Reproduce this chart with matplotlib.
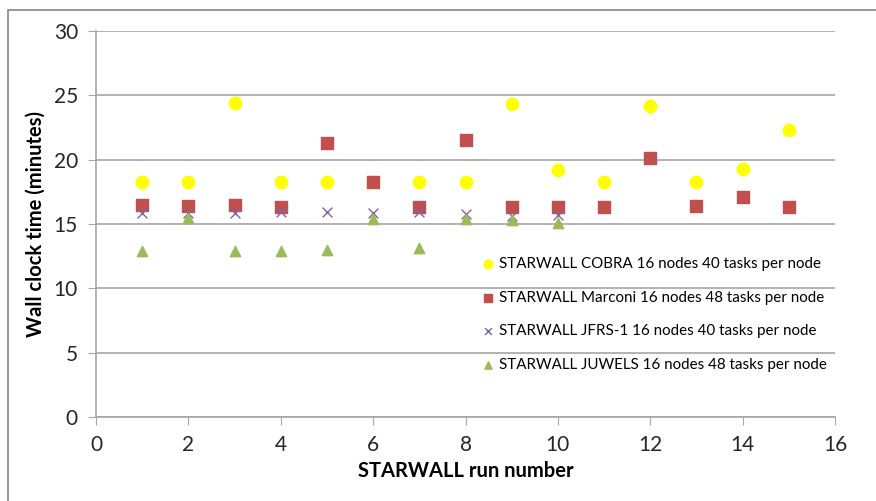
import matplotlib.pyplot as plt
from matplotlib.patches import Rectangle

runs = list(range(1, 16))
cobra = [18.3, 18.3, 24.4, 18.3, 18.3, 18.3, 18.3, 18.3, 24.3, 19.2, 18.3, 24.2, 18.3, 19.3, 22.3]
marconi = [16.5, 16.4, 16.5, 16.3, 21.3, 18.3, 16.3, 21.5, 16.3, 16.3, 16.3, 20.1, 16.4, 17.1, 16.3]
jfrs_runs = list(range(1, 11))
jfrs = [15.85, 15.85, 15.85, 15.9, 15.9, 15.85, 15.9, 15.8, 15.6, 15.7]
juwels_runs = list(range(1, 11))
juwels = [12.9, 15.45, 12.9, 12.9, 13.0, 15.4, 13.15, 15.4, 15.3, 15.1]

plt.rcParams['font.family'] = ['Lato', 'DejaVu Sans']

fig = plt.figure(figsize=(8.76, 5.01), dpi=100)
ax = fig.add_axes([0.1096, 0.1677, 0.8436, 0.7703])

# grey frame round the figure (right/bottom edges fall outside the image)
fig.patches.append(Rectangle((8 / 876, -0.1), 1.2, 1 - 10 / 501 + 0.1, transform=fig.transFigure,
                             fill=False, edgecolor='#888888', linewidth=1.2))

ax.scatter(runs, cobra, s=80, marker='o', color='#FFFF00', label='STARWALL COBRA 16 nodes 40 tasks per node', zorder=3)
ax.scatter(runs, marconi, s=70, marker='s', color='#C0504D', label='STARWALL Marconi 16 nodes 48 tasks per node', zorder=3)
ax.scatter(jfrs_runs, jfrs, s=50, marker='x', color='#8064A2', linewidths=1.0, label='STARWALL JFRS-1 16 nodes 40 tasks per node', zorder=3)
ax.scatter(juwels_runs, juwels, s=55, marker='^', color='#9BBB59', label='STARWALL JUWELS 16 nodes 48 tasks per node', zorder=3)

ax.set_xlim(0, 16)
ax.set_ylim(0, 30)
ax.set_xticks(range(0, 17, 2))
ax.set_yticks(range(0, 31, 5))
ax.grid(axis='y', color='#a6a6a6', linewidth=1.2)
ax.set_axisbelow(True)
for s in ['top', 'right']:
    ax.spines[s].set_visible(False)
for s in ['left', 'bottom']:
    ax.spines[s].set_color('#a6a6a6')
    ax.spines[s].set_linewidth(1.2)
ax.tick_params(direction='out', length=6, color='#a6a6a6', labelsize=15, labelcolor='#262626', pad=7)

ax.set_xlabel('STARWALL run number', fontsize=14.5, fontweight='bold', labelpad=4)
ax.set_ylabel('Wall clock time (minutes)', fontsize=14.5, fontweight='bold', labelpad=6)

ax.legend(loc='upper left', bbox_to_anchor=(0.51, 0.43), frameon=False, fontsize=10.9,
          handletextpad=0.1, labelspacing=1.3, borderaxespad=0, handlelength=1.2, markerscale=0.7)

fig.savefig('out.png', dpi=100)
